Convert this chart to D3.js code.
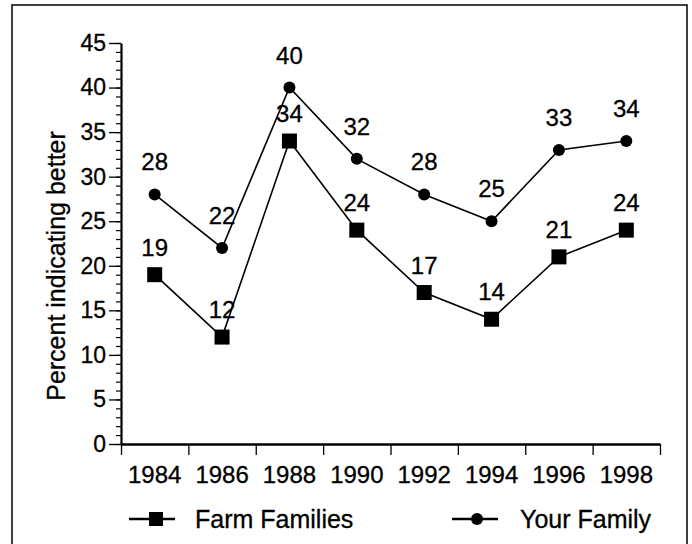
<!DOCTYPE html>
<html>
<head>
<meta charset="utf-8">
<script src="https://cdn.jsdelivr.net/npm/d3@7"></script>
<style>
  body { margin: 0; background: #fff; }
  svg { display: block; }
  text { font-family: "Liberation Sans", Arial, sans-serif; fill: #000; stroke: #000; stroke-width: 0.3px; }
  .axis path, .axis line { stroke: #000; }
  .axis text { font-size: 24px; }
  .axis.yax text { font-size: 23px; }
</style>
</head>
<body>
<svg id="chart" width="692" height="544"></svg>
<script>
var years = ["1984", "1986", "1988", "1990", "1992", "1994", "1996", "1998"];
var farmFamilies = [19, 12, 34, 24, 17, 14, 21, 24];
var yourFamily = [28, 22, 40, 32, 28, 25, 33, 34];
var yTicks = [0, 5, 10, 15, 20, 25, 30, 35, 40, 45];

var svg = d3.select("#chart"),
    plot = {left: 121, right: 660, top: 43, bottom: 444};

var x = d3.scaleBand().domain(years).range([plot.left, plot.right]).padding(0),
    xEdge = d3.scaleLinear().domain([0, years.length]).range([plot.left, plot.right]),
    y = d3.scaleLinear().domain([0, 45]).range([plot.bottom, plot.top]);

// frame
svg.append("rect")
    .attr("x", 12).attr("y", 5)
    .attr("width", 675).attr("height", 560)
    .attr("fill", "none")
    .attr("stroke", "#000")
    .attr("stroke-width", 1.5);

// y axis: minor then major ticks
svg.append("g")
    .attr("class", "axis")
    .attr("transform", "translate(" + plot.left + ",0)")
    .call(d3.axisLeft(y).tickValues(d3.range(0, 46)).tickSize(5).tickFormat(""))
    .call(function(g) { g.select(".domain").remove(); })
    .selectAll("line").attr("stroke-width", 1.2);

var yAxis = svg.append("g")
    .attr("class", "axis yax")
    .attr("transform", "translate(" + plot.left + ",0)")
    .call(d3.axisLeft(y).tickValues(yTicks).tickSize(12).tickSizeOuter(0).tickPadding(3));
yAxis.select(".domain").attr("stroke-width", 2.2);
yAxis.selectAll("line").attr("stroke-width", 1.3);

// x axis: ticks at band edges, labels at band centres
var xAxis = svg.append("g")
    .attr("class", "axis")
    .attr("transform", "translate(0," + plot.bottom + ")")
    .call(d3.axisBottom(xEdge).tickValues(d3.range(0, years.length + 1)).tickSize(11).tickSizeOuter(0).tickFormat(""));
xAxis.select(".domain").attr("stroke-width", 2.5);
xAxis.selectAll("line").attr("stroke-width", 1.3);

svg.append("g")
    .attr("class", "axis")
    .attr("transform", "translate(0," + plot.bottom + ")")
    .call(d3.axisBottom(x).tickSize(0).tickPadding(22))
    .call(function(g) { g.select(".domain").remove(); });

svg.append("text")
    .attr("transform", "rotate(-90)")
    .attr("x", -266)
    .attr("y", 65)
    .attr("text-anchor", "middle")
    .style("font-size", "25px")
    .text("Percent indicating better");

var line = d3.line()
    .x(function(d, i) { return x(years[i]) + x.bandwidth() / 2; })
    .y(function(d) { return y(d); });

function cx(i) { return x(years[i]) + x.bandwidth() / 2; }

// Your Family
svg.append("path")
    .datum(yourFamily)
    .attr("d", line)
    .attr("fill", "none")
    .attr("stroke", "#000")
    .attr("stroke-width", 1.6);

svg.selectAll(".dot")
    .data(yourFamily)
    .enter().append("circle")
      .attr("class", "dot")
      .attr("cx", function(d, i) { return cx(i); })
      .attr("cy", function(d) { return y(d); })
      .attr("r", 6);

svg.selectAll(".lblYour")
    .data(yourFamily)
    .enter().append("text")
      .attr("class", "lblYour")
      .attr("x", function(d, i) { return cx(i); })
      .attr("y", function(d) { return y(d) - 24; })
      .attr("text-anchor", "middle")
      .style("font-size", "24px")
      .text(function(d) { return d; });

// Farm Families
svg.append("path")
    .datum(farmFamilies)
    .attr("d", line)
    .attr("fill", "none")
    .attr("stroke", "#000")
    .attr("stroke-width", 1.6);

svg.selectAll(".sq")
    .data(farmFamilies)
    .enter().append("rect")
      .attr("class", "sq")
      .attr("x", function(d, i) { return cx(i) - 7.5; })
      .attr("y", function(d) { return y(d) - 7.5; })
      .attr("width", 15)
      .attr("height", 15);

svg.selectAll(".lblFarm")
    .data(farmFamilies)
    .enter().append("text")
      .attr("class", "lblFarm")
      .attr("x", function(d, i) { return cx(i); })
      .attr("y", function(d) { return y(d) - 19; })
      .attr("text-anchor", "middle")
      .style("font-size", "24px")
      .text(function(d) { return d; });

// legend
var legY = 519;
var leg1 = svg.append("g");
leg1.append("line").attr("x1", 129).attr("x2", 175).attr("y1", legY).attr("y2", legY)
    .attr("stroke", "#000").attr("stroke-width", 2.5);
leg1.append("rect").attr("x", 149).attr("y", legY - 7).attr("width", 14).attr("height", 14);
leg1.append("text").attr("x", 195).attr("y", legY + 9).style("font-size", "25px").text("Farm Families");

var leg2 = svg.append("g");
leg2.append("line").attr("x1", 452).attr("x2", 498).attr("y1", legY).attr("y2", legY)
    .attr("stroke", "#000").attr("stroke-width", 2.5);
leg2.append("circle").attr("cx", 477).attr("cy", legY).attr("r", 6);
leg2.append("text").attr("x", 520).attr("y", legY + 9).style("font-size", "25px").text("Your Family");
</script>
</body>
</html>
